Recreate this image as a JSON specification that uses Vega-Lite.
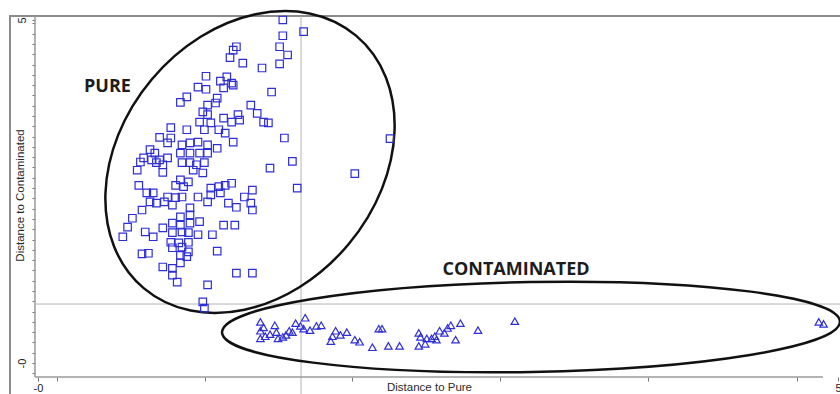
{
  "$schema": "https://vega.github.io/schema/vega-lite/v6.json",
  "width": 832,
  "height": 384,
  "autosize": {"type": "none"},
  "padding": {"left": 10, "top": 16, "right": 0, "bottom": 0},
  "background": "white",
  "config": {"view": {"stroke": "#8c8c8c", "strokeWidth": 2}},
  "datasets": {
    "pts": [
      {"p":1.53,"c":5.00,"k":"Pure"},{"p":1.66,"c":4.83,"k":"Pure"},{"p":1.53,"c":4.77,"k":"Pure"},{"p":1.51,"c":4.61,"k":"Pure"},
      {"p":1.56,"c":4.49,"k":"Pure"},{"p":1.51,"c":4.36,"k":"Pure"},{"p":1.24,"c":4.61,"k":"Pure"},{"p":1.22,"c":4.56,"k":"Pure"},
      {"p":1.20,"c":4.45,"k":"Pure"},{"p":1.28,"c":4.37,"k":"Pure"},{"p":1.40,"c":4.30,"k":"Pure"},{"p":1.46,"c":3.95,"k":"Pure"},
      {"p":1.05,"c":4.18,"k":"Pure"},{"p":1.14,"c":4.11,"k":"Pure"},{"p":1.18,"c":4.17,"k":"Pure"},{"p":1.21,"c":4.08,"k":"Pure"},
      {"p":1.22,"c":4.05,"k":"Pure"},{"p":1.16,"c":4.01,"k":"Pure"},{"p":1.00,"c":4.02,"k":"Pure"},{"p":1.05,"c":3.99,"k":"Pure"},
      {"p":0.93,"c":3.88,"k":"Pure"},{"p":1.12,"c":3.86,"k":"Pure"},{"p":1.41,"c":3.51,"k":"Pure"},{"p":1.44,"c":3.50,"k":"Pure"},
      {"p":1.54,"c":3.28,"k":"Pure"},{"p":1.45,"c":2.84,"k":"Pure"},{"p":1.59,"c":2.94,"k":"Pure"},{"p":1.98,"c":2.76,"k":"Pure"},
      {"p":2.20,"c":3.27,"k":"Pure"},{"p":1.62,"c":2.55,"k":"Pure"},{"p":1.03,"c":0.89,"k":"Pure"},{"p":1.04,"c":0.80,"k":"Pure"},
      {"p":0.89,"c":3.80,"k":"Pure"},{"p":1.06,"c":3.76,"k":"Pure"},{"p":1.11,"c":3.79,"k":"Pure"},{"p":1.33,"c":3.76,"k":"Pure"},
      {"p":1.03,"c":3.66,"k":"Pure"},{"p":1.06,"c":3.62,"k":"Pure"},{"p":1.16,"c":3.57,"k":"Pure"},{"p":1.25,"c":3.62,"k":"Pure"},
      {"p":1.37,"c":3.64,"k":"Pure"},{"p":1.01,"c":3.51,"k":"Pure"},{"p":1.08,"c":3.50,"k":"Pure"},{"p":1.21,"c":3.51,"k":"Pure"},
      {"p":1.26,"c":3.54,"k":"Pure"},{"p":0.83,"c":3.43,"k":"Pure"},{"p":0.93,"c":3.40,"k":"Pure"},{"p":1.04,"c":3.40,"k":"Pure"},
      {"p":1.13,"c":3.40,"k":"Pure"},{"p":1.17,"c":3.35,"k":"Pure"},{"p":1.22,"c":3.22,"k":"Pure"},{"p":0.76,"c":3.29,"k":"Pure"},
      {"p":0.83,"c":3.28,"k":"Pure"},{"p":0.81,"c":3.21,"k":"Pure"},{"p":0.90,"c":3.18,"k":"Pure"},{"p":0.95,"c":3.21,"k":"Pure"},
      {"p":1.00,"c":3.22,"k":"Pure"},{"p":1.06,"c":3.18,"k":"Pure"},{"p":1.12,"c":3.13,"k":"Pure"},{"p":0.70,"c":3.11,"k":"Pure"},
      {"p":0.73,"c":3.06,"k":"Pure"},{"p":0.66,"c":2.99,"k":"Pure"},{"p":0.71,"c":2.96,"k":"Pure"},{"p":0.76,"c":2.96,"k":"Pure"},
      {"p":0.81,"c":2.99,"k":"Pure"},{"p":0.89,"c":3.06,"k":"Pure"},{"p":0.95,"c":3.06,"k":"Pure"},{"p":1.01,"c":3.06,"k":"Pure"},
      {"p":1.06,"c":3.06,"k":"Pure"},{"p":0.64,"c":2.93,"k":"Pure"},{"p":0.74,"c":2.92,"k":"Pure"},{"p":0.78,"c":2.89,"k":"Pure"},
      {"p":0.90,"c":2.92,"k":"Pure"},{"p":0.95,"c":2.92,"k":"Pure"},{"p":0.99,"c":2.89,"k":"Pure"},{"p":1.04,"c":2.92,"k":"Pure"},
      {"p":0.62,"c":2.81,"k":"Pure"},{"p":0.78,"c":2.78,"k":"Pure"},{"p":0.97,"c":2.81,"k":"Pure"},{"p":1.03,"c":2.77,"k":"Pure"},
      {"p":0.89,"c":2.67,"k":"Pure"},{"p":0.94,"c":2.64,"k":"Pure"},{"p":0.63,"c":2.59,"k":"Pure"},{"p":0.86,"c":2.59,"k":"Pure"},
      {"p":0.91,"c":2.57,"k":"Pure"},{"p":1.08,"c":2.55,"k":"Pure"},{"p":1.13,"c":2.57,"k":"Pure"},{"p":1.17,"c":2.59,"k":"Pure"},
      {"p":1.21,"c":2.62,"k":"Pure"},{"p":1.34,"c":2.52,"k":"Pure"},{"p":0.68,"c":2.48,"k":"Pure"},{"p":0.72,"c":2.48,"k":"Pure"},
      {"p":0.81,"c":2.42,"k":"Pure"},{"p":0.86,"c":2.41,"k":"Pure"},{"p":0.90,"c":2.42,"k":"Pure"},{"p":1.00,"c":2.42,"k":"Pure"},
      {"p":1.08,"c":2.45,"k":"Pure"},{"p":1.14,"c":2.48,"k":"Pure"},{"p":0.70,"c":2.35,"k":"Pure"},{"p":0.74,"c":2.33,"k":"Pure"},
      {"p":0.79,"c":2.35,"k":"Pure"},{"p":0.84,"c":2.30,"k":"Pure"},{"p":1.06,"c":2.35,"k":"Pure"},{"p":1.19,"c":2.33,"k":"Pure"},
      {"p":1.24,"c":2.27,"k":"Pure"},{"p":1.29,"c":2.42,"k":"Pure"},{"p":1.33,"c":2.33,"k":"Pure"},{"p":1.34,"c":2.23,"k":"Pure"},
      {"p":0.65,"c":2.23,"k":"Pure"},{"p":0.95,"c":2.26,"k":"Pure"},{"p":0.89,"c":2.13,"k":"Pure"},{"p":0.95,"c":2.16,"k":"Pure"},
      {"p":0.59,"c":2.11,"k":"Pure"},{"p":0.56,"c":1.98,"k":"Pure"},{"p":0.53,"c":1.84,"k":"Pure"},{"p":0.67,"c":1.91,"k":"Pure"},
      {"p":0.72,"c":1.84,"k":"Pure"},{"p":0.78,"c":1.97,"k":"Pure"},{"p":0.84,"c":2.04,"k":"Pure"},{"p":0.89,"c":2.01,"k":"Pure"},
      {"p":0.95,"c":2.04,"k":"Pure"},{"p":1.01,"c":2.06,"k":"Pure"},{"p":1.16,"c":2.01,"k":"Pure"},{"p":1.23,"c":2.01,"k":"Pure"},
      {"p":0.84,"c":1.90,"k":"Pure"},{"p":0.90,"c":1.91,"k":"Pure"},{"p":0.94,"c":1.90,"k":"Pure"},{"p":1.00,"c":1.87,"k":"Pure"},
      {"p":1.09,"c":1.87,"k":"Pure"},{"p":0.83,"c":1.76,"k":"Pure"},{"p":0.88,"c":1.75,"k":"Pure"},{"p":0.94,"c":1.76,"k":"Pure"},
      {"p":0.84,"c":1.68,"k":"Pure"},{"p":0.90,"c":1.69,"k":"Pure"},{"p":0.94,"c":1.62,"k":"Pure"},{"p":0.89,"c":1.57,"k":"Pure"},
      {"p":0.93,"c":1.55,"k":"Pure"},{"p":0.65,"c":1.59,"k":"Pure"},{"p":0.69,"c":1.60,"k":"Pure"},{"p":1.12,"c":1.63,"k":"Pure"},
      {"p":0.78,"c":1.40,"k":"Pure"},{"p":0.84,"c":1.38,"k":"Pure"},{"p":0.84,"c":1.28,"k":"Pure"},{"p":0.87,"c":1.18,"k":"Pure"},
      {"p":0.89,"c":1.46,"k":"Pure"},{"p":1.24,"c":1.31,"k":"Pure"},{"p":1.34,"c":1.31,"k":"Pure"},{"p":1.06,"c":1.14,"k":"Pure"},
      {"p":1.39,"c":0.60,"k":"Contaminated"},{"p":1.48,"c":0.55,"k":"Contaminated"},{"p":1.39,"c":0.47,"k":"Contaminated"},
      {"p":1.39,"c":0.36,"k":"Contaminated"},{"p":1.42,"c":0.39,"k":"Contaminated"},{"p":1.49,"c":0.45,"k":"Contaminated"},
      {"p":1.50,"c":0.36,"k":"Contaminated"},{"p":1.55,"c":0.41,"k":"Contaminated"},{"p":1.59,"c":0.45,"k":"Contaminated"},
      {"p":1.61,"c":0.58,"k":"Contaminated"},{"p":1.64,"c":0.54,"k":"Contaminated"},{"p":1.67,"c":0.66,"k":"Contaminated"},
      {"p":1.70,"c":0.48,"k":"Contaminated"},{"p":1.77,"c":0.55,"k":"Contaminated"},{"p":1.86,"c":0.47,"k":"Contaminated"},
      {"p":1.84,"c":0.39,"k":"Contaminated"},{"p":1.83,"c":0.32,"k":"Contaminated"},{"p":1.93,"c":0.45,"k":"Contaminated"},
      {"p":1.98,"c":0.34,"k":"Contaminated"},{"p":2.01,"c":0.31,"k":"Contaminated"},{"p":2.13,"c":0.50,"k":"Contaminated"},
      {"p":2.15,"c":0.50,"k":"Contaminated"},{"p":2.09,"c":0.23,"k":"Contaminated"},{"p":2.19,"c":0.25,"k":"Contaminated"},
      {"p":2.26,"c":0.25,"k":"Contaminated"},{"p":2.38,"c":0.44,"k":"Contaminated"},{"p":2.39,"c":0.38,"k":"Contaminated"},
      {"p":2.43,"c":0.36,"k":"Contaminated"},{"p":2.46,"c":0.36,"k":"Contaminated"},{"p":2.49,"c":0.34,"k":"Contaminated"},
      {"p":2.51,"c":0.47,"k":"Contaminated"},{"p":2.54,"c":0.44,"k":"Contaminated"},{"p":2.58,"c":0.55,"k":"Contaminated"},
      {"p":2.64,"c":0.58,"k":"Contaminated"},{"p":2.61,"c":0.34,"k":"Contaminated"},{"p":2.38,"c":0.25,"k":"Contaminated"},
      {"p":2.75,"c":0.48,"k":"Contaminated"},{"p":2.98,"c":0.61,"k":"Contaminated"},{"p":4.88,"c":0.60,"k":"Contaminated"},
      {"p":4.91,"c":0.57,"k":"Contaminated"},{"p":1.41,"c":0.52,"k":"Contaminated"},{"p":1.45,"c":0.42,"k":"Contaminated"},
      {"p":1.53,"c":0.38,"k":"Contaminated"},{"p":1.57,"c":0.47,"k":"Contaminated"},{"p":1.66,"c":0.50,"k":"Contaminated"},
      {"p":1.74,"c":0.54,"k":"Contaminated"},{"p":1.89,"c":0.41,"k":"Contaminated"},{"p":2.42,"c":0.28,"k":"Contaminated"},
      {"p":2.48,"c":0.39,"k":"Contaminated"},{"p":2.56,"c":0.51,"k":"Contaminated"}
    ],
    "groups": [
      {"name": "PURE", "cx": 1.325, "cy": 2.93, "lx": 0.434, "ly": 4.023},
      {"name": "CONTAMINATED", "cx": 3.081, "cy": 0.525, "lx": 2.9875, "ly": 1.356}
    ],
    "one": [{"limit_pure": 1.644, "limit_cont": 0.86, "x0": -0.019, "x1": 4.906, "x2": 5.025, "y0": -0.204, "y1": 5.058}]
  },
  "layer": [
    {
      "data": {"name": "one"},
      "mark": {"type": "rule", "color": "#b4b4b4", "strokeWidth": 1},
      "encoding": {"x": {"field": "limit_pure", "type": "quantitative"}}
    },
    {
      "data": {"name": "one"},
      "mark": {"type": "rule", "color": "#b4b4b4", "strokeWidth": 1},
      "encoding": {
        "y": {"field": "limit_cont", "type": "quantitative"},
        "x": {"field": "x0", "type": "quantitative"},
        "x2": {"field": "x2"}
      }
    },
    {
      "data": {"name": "one"},
      "mark": {"type": "rule", "color": "#9a9a9a", "strokeWidth": 1.5},
      "encoding": {
        "y": {"field": "y0", "type": "quantitative"},
        "x": {"field": "x0", "type": "quantitative"},
        "x2": {"field": "x1"}
      }
    },
    {
      "data": {"name": "one"},
      "mark": {"type": "rule", "color": "#9a9a9a", "strokeWidth": 1.5},
      "encoding": {
        "x": {"field": "x0", "type": "quantitative"},
        "y": {"field": "y0", "type": "quantitative"},
        "y2": {"field": "y1"}
      }
    },
    {
      "data": {"name": "groups"},
      "transform": [{"filter": "datum.name == 'PURE'"}],
      "mark": {
        "type": "point", "filled": false, "opacity": 1, "stroke": "#111", "strokeWidth": 2.5, "size": 108900, "angle": 310,
        "shape": "M -1 0 C -1 -0.43 -0.552 -0.778 0 -0.778 C 0.552 -0.778 1 -0.43 1 0 C 1 0.43 0.552 0.778 0 0.778 C -0.552 0.778 -1 0.43 -1 0 Z"
      },
      "encoding": {
        "x": {"field": "cx", "type": "quantitative"},
        "y": {"field": "cy", "type": "quantitative"}
      }
    },
    {
      "data": {"name": "groups"},
      "transform": [{"filter": "datum.name == 'CONTAMINATED'"}],
      "mark": {
        "type": "point", "filled": false, "opacity": 1, "stroke": "#111", "strokeWidth": 2.5, "size": 381924, "angle": 359,
        "shape": "M -1 0 C -1 -0.0804 -0.552 -0.1456 0 -0.1456 C 0.552 -0.1456 1 -0.0804 1 0 C 1 0.0804 0.552 0.1456 0 0.1456 C -0.552 0.1456 -1 0.0804 -1 0 Z"
      },
      "encoding": {
        "x": {"field": "cx", "type": "quantitative"},
        "y": {"field": "cy", "type": "quantitative"}
      }
    },
    {
      "data": {"name": "pts"},
      "mark": {"type": "point", "filled": false, "opacity": 1, "size": 56, "strokeWidth": 1.2, "color": "#2e2ed6"},
      "encoding": {
        "x": {
          "field": "p", "type": "quantitative",
          "scale": {"domain": [-0.175, 5.025], "nice": false, "zero": false},
          "axis": {
            "orient": "bottom", "offset": -23, "domain": false, "grid": false,
            "values": [0, 0.119, 1.044, 1.9625, 2.8875, 3.8125, 4.744, 5],
            "tickCount": 100,
            "tickSize": 4, "tickColor": "#777",
            "labelOverlap": false,
            "labelExpr": "datum.value == 0 ? '-0' : datum.value == 5 ? '5' : ''",
            "labelFont": "Liberation Sans", "labelFontSize": 11, "labelColor": "#222", "labelPadding": 1,
            "title": "Distance to Pure", "titleFont": "Liberation Sans", "titleFontSize": 11.5,
            "titleFontWeight": "normal", "titleColor": "#2a2a2a",
            "titleX": 419, "titleY": 10, "titleAlign": "center", "titleBaseline": "middle"
          }
        },
        "y": {
          "field": "c", "type": "quantitative",
          "scale": {"domain": [-0.539, 5.058], "nice": false, "zero": false},
          "axis": {
            "orient": "left", "offset": -25, "domain": false, "grid": false,
            "values": [-0.15, 0, 0.15, 0.3, 0.45, 0.6, 0.75, 0.9, 1.05, 1.2, 1.35, 1.5, 1.65, 1.8, 1.95, 2.1, 2.25, 2.4, 2.55, 2.7, 2.85, 3, 3.15, 3.3, 3.45, 3.6, 3.75, 3.9, 4.05, 4.2, 4.35, 4.5, 4.65, 4.8, 4.95, 5],
            "tickCount": 100,
            "tickSize": 3, "tickColor": "#777",
            "labelOverlap": false,
            "labelExpr": "datum.value == 0 ? '-0' : datum.value == 5 ? '5' : ''",
            "labelAngle": 270, "labelAlign": "center", "labelBaseline": "middle",
            "labelFont": "Liberation Sans", "labelFontSize": 11, "labelColor": "#222", "labelPadding": 10,
            "title": "Distance to Contaminated", "titleFont": "Liberation Sans", "titleFontSize": 11.5,
            "titleFontWeight": "normal", "titleColor": "#2a2a2a", "titleAngle": 270,
            "titleX": -15, "titleY": 179, "titleAlign": "center", "titleBaseline": "middle"
          }
        },
        "shape": {
          "field": "k", "type": "nominal",
          "scale": {"domain": ["Pure", "Contaminated"], "range": ["square", "triangle-up"]},
          "legend": null
        }
      }
    },
    {
      "data": {"name": "groups"},
      "mark": {"type": "text", "font": "Open Sans", "fontWeight": "bold", "fontSize": 18, "color": "#1c1c1c", "align": "center", "baseline": "middle"},
      "encoding": {
        "x": {"field": "lx", "type": "quantitative"},
        "y": {"field": "ly", "type": "quantitative"},
        "text": {"field": "name"}
      }
    }
  ]
}
